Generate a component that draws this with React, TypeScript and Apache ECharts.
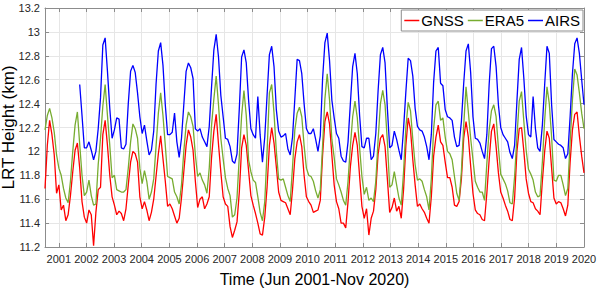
import React, { useEffect, useRef } from "react";
import * as echarts from "echarts";

// Monthly samples, Jun 2001 - Nov 2020 (234 months)
const gnss: number[] = [
  11.69, 12.05, 12.26, 12.14, 11.97, 11.65, 11.72, 11.51, 11.55, 11.42,
  11.47, 11.63, 11.83, 12.01, 12.07, 11.86, 11.58, 11.45, 11.40, 11.51,
  11.47, 11.21, 11.49, 11.68, 11.70, 12.14, 12.26, 12.05, 11.80, 11.62,
  11.55, 11.47, 11.50, 11.48, 11.42, 11.52, 11.72, 11.91, 12.00, 11.98,
  11.91, 11.62, 11.52, 11.58, 11.51, 11.42, 11.49, 11.60, 11.79, 11.98,
  12.13, 11.94, 11.75, 11.54, 11.56, 11.52, 11.46, 11.40, 11.44, 11.61,
  11.83, 12.05, 12.18, 12.12, 12.01, 11.75, 11.53, 11.60, 11.62, 11.52,
  11.56, 11.62, 11.95, 12.17, 12.31, 12.06, 11.83, 11.62, 11.56,
  11.54, 11.37, 11.28, 11.34, 11.41, 11.66, 12.03, 12.14, 12.05, 11.84,
  11.63, 11.55, 11.48, 11.40, 11.31, 11.30, 11.45, 11.70, 12.05, 12.20,
  12.07, 11.87, 11.66, 11.59, 11.58, 11.57, 11.52, 11.47, 11.68, 11.94,
  12.08, 12.14, 12.04, 11.80, 11.62, 11.58, 11.55, 11.49, 11.50,
  11.51, 11.59, 11.97, 12.25, 12.33, 12.23, 11.97, 11.72, 11.58, 11.52,
  11.40, 11.40, 11.36, 11.58, 11.87, 12.05, 12.16, 12.05, 11.79, 11.54,
  11.44, 11.52, 11.30, 11.44, 11.50, 11.68, 11.98, 12.11, 12.14, 12.04,
  11.77, 11.49, 11.53, 11.61, 11.50, 11.54, 11.44, 11.68, 12.05,
  12.28, 12.18, 11.93, 11.72, 11.54, 11.56, 11.52, 11.49, 11.44, 11.40,
  11.62, 11.96, 12.12, 12.22, 12.08, 12.05, 11.91, 11.78, 11.78, 11.70,
  11.55, 11.54, 11.58, 11.77, 12.11, 12.25, 12.12, 11.88, 11.65, 11.51,
  11.48, 11.47, 11.43, 11.42, 11.65, 11.93, 12.17, 12.23, 12.04,
  11.82, 11.66, 11.61, 11.55, 11.50, 11.43, 11.42, 11.61, 12.00, 12.19,
  12.20, 12.00, 11.77, 11.65, 11.58, 11.57, 11.52, 11.50, 11.47, 11.75,
  12.00, 12.17, 12.11, 11.86, 11.61, 11.56, 11.58, 11.57, 11.52, 11.46,
  11.55, 11.91, 12.18, 12.31, 12.33, 12.13, 11.96, 11.82,
];

const era5: number[] = [
  12.18, 12.30, 12.36, 12.28, 12.16, 11.97, 11.86, 11.80, 11.69, 11.61,
  11.57, 11.75, 12.00, 12.22, 12.33, 12.06, 11.80, 11.63, 11.66, 11.76,
  11.63, 11.55, 11.56, 11.89, 12.11, 12.38, 12.56, 12.30, 12.05, 11.78,
  11.80, 11.68, 11.67, 11.66, 11.66, 11.68, 11.86, 12.08, 12.23, 12.19,
  12.11, 11.86, 11.73, 11.84, 11.75, 11.60, 11.66, 11.77, 12.04, 12.32,
  12.49, 12.30, 12.05, 11.79, 11.78, 11.77, 11.66, 11.62, 11.56, 11.72,
  12.00, 12.22, 12.33, 12.29, 12.21, 11.97, 11.79, 11.82, 11.76, 11.72,
  11.65, 11.86, 12.22, 12.44, 12.63, 12.39, 12.11, 11.94, 11.78,
  11.69, 11.63, 11.45, 11.47, 11.61, 11.96, 12.30, 12.51, 12.30, 11.93,
  11.83, 11.76, 11.74, 11.62, 11.49, 11.42, 11.58, 12.00, 12.49, 12.56,
  12.32, 12.00, 11.77, 11.76, 11.77, 11.70, 11.63, 11.58, 11.87, 12.18,
  12.32, 12.37, 12.29, 12.05, 11.86, 11.80, 11.79, 11.75, 11.67,
  11.61, 11.68, 12.05, 12.44, 12.65, 12.43, 12.10, 11.95, 11.77, 11.72,
  11.66, 11.59, 11.55, 11.75, 12.04, 12.29, 12.42, 12.28, 12.03, 11.79,
  11.64, 11.70, 11.59, 11.61, 11.58, 11.75, 12.10, 12.40, 12.51, 12.39,
  12.08, 11.70, 11.72, 11.83, 11.72, 11.61, 11.55, 11.83, 12.20,
  12.41, 12.34, 12.10, 11.89, 11.76, 11.77, 11.75, 11.68, 11.62, 11.51,
  11.77, 12.19, 12.39, 12.42, 12.26, 12.28, 12.12, 12.00, 11.98, 11.93,
  11.79, 11.65, 11.59, 11.83, 12.22, 12.54, 12.33, 12.11, 11.93, 11.75,
  11.70, 11.66, 11.66, 11.59, 11.90, 12.18, 12.34, 12.39, 12.29,
  12.03, 11.81, 11.77, 11.73, 11.67, 11.57, 11.56, 11.79, 12.12, 12.42,
  12.50, 12.25, 12.01, 11.85, 11.81, 11.76, 11.66, 11.62, 11.63, 11.91,
  12.26, 12.54, 12.40, 12.12, 11.76, 11.75, 11.80, 11.80, 11.72, 11.63,
  11.69, 12.08, 12.43, 12.69, 12.64, 12.49, 12.32, 12.19,
];

const airs: (number | null)[] = [
  null, null, null, null, null, null, null, null, null, null,
  null, null, null, null, null, 12.56, 12.30, 12.03, 12.03, 12.08,
  12.01, 11.93, 12.00, 12.19, 12.45, 12.89, 12.95, 12.67, 12.36, 12.11,
  12.18, 12.28, 12.27, 12.03, 12.02, 12.06, 12.40, 12.67, 12.72, 12.66,
  12.49, 12.29, 12.15, 12.22, 12.09, 11.97, 12.01, 12.17, 12.56, 12.84,
  12.91, 12.72, 12.39, 12.14, 12.14, 12.16, 12.32, 12.08, 11.95, 12.11,
  12.39, 12.67, 12.74, 12.70, 12.61, 12.19, 12.17, 12.19, 12.12, 12.08,
  12.04, 12.21, 12.54, 12.85, 12.98, 12.79, 12.47, 12.29, 12.11,
  12.10, 12.04, 11.92, 11.90, 11.98, 12.36, 12.79, 12.85, 12.74, 12.43,
  12.19, 12.14, 12.11, 12.46, 12.14, 11.91, 12.12, 12.47, 12.81, 12.88,
  12.71, 12.35, 12.17, 12.12, 12.13, 12.15, 12.02, 11.97, 12.12, 12.44,
  12.77, 12.76, 12.65, 12.40, 12.19, 12.15, 12.15, 12.19, 12.10,
  12.00, 12.13, 12.61, 12.91, 12.99, 12.76, 12.43, 12.28, 12.15, 12.11,
  11.96, 11.92, 11.91, 12.08, 12.40, 12.71, 12.82, 12.65, 12.30, 12.04,
  12.03, 12.11, 12.11, 11.93, 11.96, 12.15, 12.51, 12.81, 12.87, 12.74,
  12.36, 12.03, 12.05, 12.17, 12.10, 12.01, 11.93, 12.19, 12.50,
  12.78, 12.76, 12.63, 12.36, 12.21, 12.18, 12.17, 12.12, 12.04, 11.93,
  12.14, 12.58, 12.84, 12.87, 12.57, 12.55, 12.35, 12.29, 12.28, 12.26,
  12.12, 12.04, 12.05, 12.25, 12.57, 12.84, 12.90, 12.66, 12.29, 12.11,
  12.10, 12.07, 12.00, 11.94, 12.14, 12.56, 12.86, 12.88, 12.71,
  12.39, 12.20, 12.14, 12.11, 12.08, 11.99, 11.94, 12.05, 12.42, 12.77,
  12.87, 12.61, 12.30, 12.14, 12.12, 12.46, 12.19, 12.03, 12.00, 12.22,
  12.56, 12.88, 12.82, 12.39, 12.10, 12.08, 12.06, 12.05, 12.03, 11.94,
  11.98, 12.29, 12.65, 12.90, 12.95, 12.82, 12.60, 12.39,
];

const yearTicks: number[] = [
  2001, 2002, 2003, 2004, 2005, 2006, 2007, 2008, 2009, 2010,
  2011, 2012, 2013, 2014, 2015, 2016, 2017, 2018, 2019, 2020,
];

const X_START = 2000.5;
const X_END = 2020;
const FONT = "'Liberation Sans', Arial, Helvetica, sans-serif";

export default function App() {
  const ref = useRef<HTMLDivElement>(null);

  useEffect(() => {
    if (!ref.current) return;
    const chart = echarts.init(ref.current, undefined, { renderer: "svg" });
    const n = gnss.length;
    const step = (X_END - X_START) / (n - 1);
    const toPairs = (arr: (number | null)[]) =>
      arr.map((v, i) => [X_START + i * step, v]);

    const axisLineStyle = { color: "#8c8c8c", width: 1 };
    const tickStyle = { show: true, inside: true, length: 4, lineStyle: { color: "#8c8c8c" } };

    const baseX = {
      type: "value" as const,
      min: X_START,
      max: X_END,
      axisLine: { show: true, onZero: false, lineStyle: axisLineStyle },
    };
    const baseY = {
      type: "value" as const,
      min: 11.2,
      max: 13.2,
      interval: 0.2,
      axisLine: { show: true, onZero: false, lineStyle: axisLineStyle },
    };

    chart.setOption({
      animation: false,
      backgroundColor: "#ffffff",
      textStyle: { fontFamily: FONT },
      grid: {
        left: 45,
        right: 16,
        top: 8,
        bottom: 42,
        containLabel: false,
        outerBoundsMode: "none",
      },
      legend: {
        data: ["GNSS", "ERA5", "AIRS"],
        top: 10,
        right: 17,
        icon: "rect",
        itemWidth: 15,
        itemHeight: 1.5,
        itemGap: 4,
        padding: [3, 3, 3, 3],
        backgroundColor: "#ffffff",
        borderColor: "#8c8c8c",
        borderWidth: 1,
        borderRadius: 0,
        textStyle: { fontSize: 15, color: "#000", fontFamily: FONT, padding: [0, 0, 0, -3] },
      },
      xAxis: [
        {
          ...baseX,
          position: "bottom",
          name: "Time (Jun 2001-Nov 2020)",
          nameLocation: "middle",
          nameGap: 24,
          nameMoveOverlap: false,
          nameTextStyle: { fontSize: 16, color: "#000", fontFamily: FONT },
          axisTick: { ...tickStyle, customValues: yearTicks },
          axisLabel: {
            customValues: yearTicks,
            fontSize: 11,
            color: "#262626",
            margin: 6,
            formatter: (v: number) => String(Math.round(v)),
          },
          splitLine: { show: true, lineStyle: { color: "#e6e6e6", width: 1 } },
        },
        {
          ...baseX,
          position: "top",
          axisTick: { ...tickStyle, customValues: yearTicks },
          axisLabel: { show: false },
          splitLine: { show: false },
        },
      ],
      yAxis: [
        {
          ...baseY,
          position: "left",
          name: "LRT Height (km)",
          nameLocation: "middle",
          nameGap: 28,
          nameMoveOverlap: false,
          nameTextStyle: { fontSize: 17, color: "#000", fontFamily: FONT },
          axisTick: tickStyle,
          axisLabel: {
            fontSize: 11,
            color: "#262626",
            margin: 5,
            formatter: (v: number) => String(parseFloat(v.toFixed(1))),
          },
          splitLine: { show: true, lineStyle: { color: "#e6e6e6", width: 1 } },
        },
        {
          ...baseY,
          position: "right",
          axisTick: tickStyle,
          axisLabel: { show: false },
          splitLine: { show: false },
        },
      ],
      series: [
        {
          name: "GNSS",
          type: "line",
          data: toPairs(gnss),
          showSymbol: false,
          symbol: "none",
          color: "#ff0000",
          lineStyle: { width: 1.3, color: "#ff0000" },
          z: 3,
        },
        {
          name: "ERA5",
          type: "line",
          data: toPairs(era5),
          showSymbol: false,
          symbol: "none",
          color: "#77ac30",
          lineStyle: { width: 1.3, color: "#77ac30" },
          z: 4,
        },
        {
          name: "AIRS",
          type: "line",
          data: toPairs(airs),
          showSymbol: false,
          symbol: "none",
          connectNulls: false,
          color: "#0000ff",
          lineStyle: { width: 1.3, color: "#0000ff" },
          z: 5,
        },
      ],
    });

    return () => chart.dispose();
  }, []);

  return <div ref={ref} style={{ width: 600, height: 289, position: "absolute", left: 0, top: 0 }} />;
}
